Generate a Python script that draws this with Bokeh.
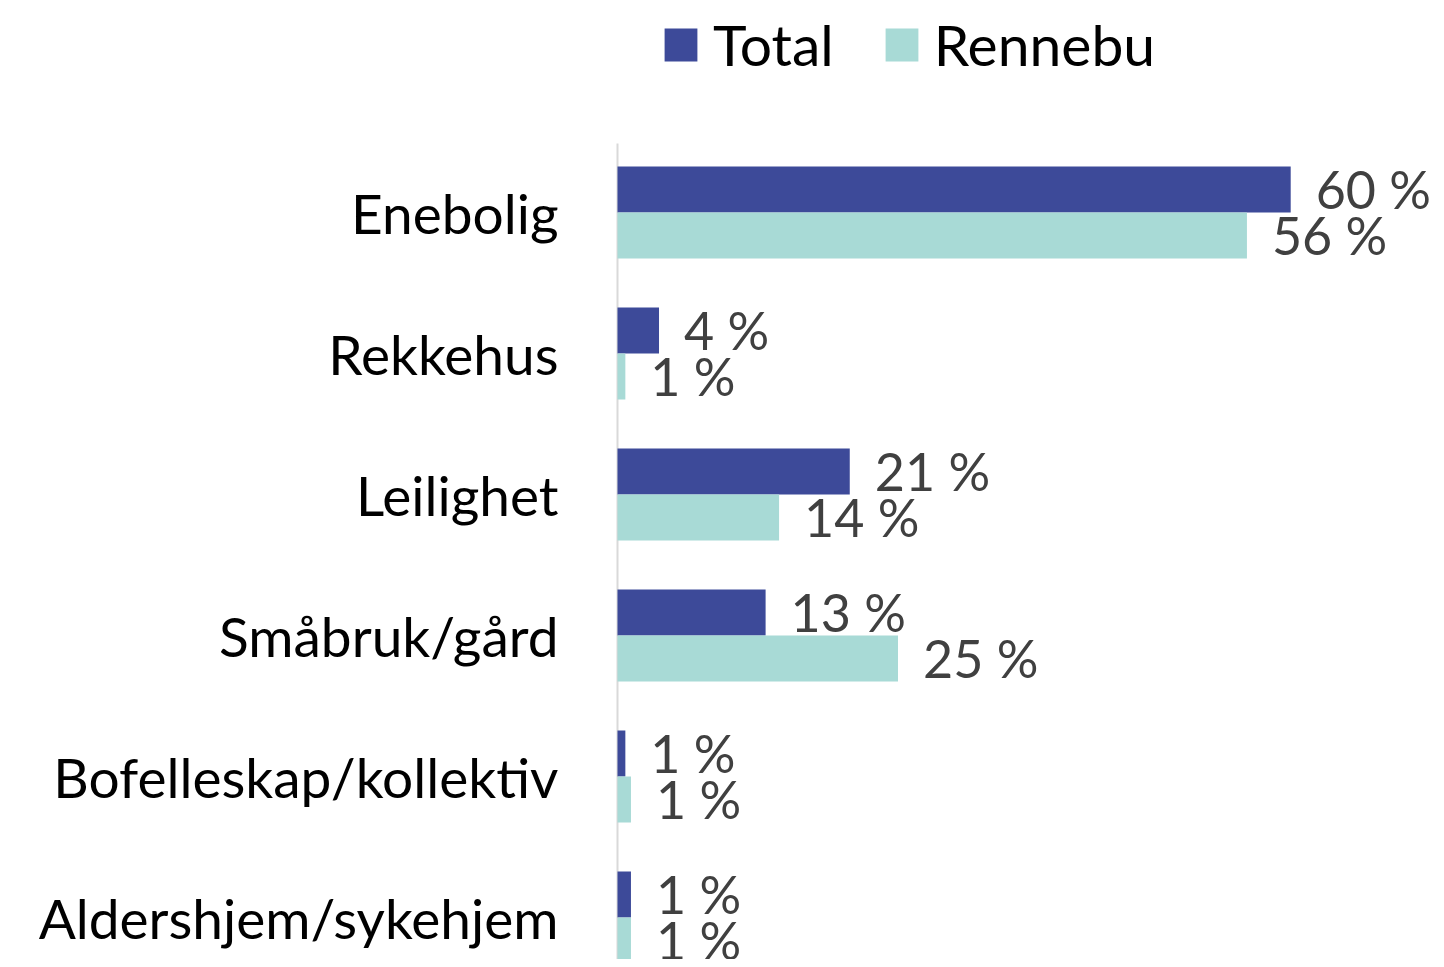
from bokeh.plotting import figure
from bokeh.models import Range1d, FixedTicker, Legend, LegendItem, ColumnDataSource
from bokeh.core.properties import value
from bokeh.embed import file_html
from bokeh.resources import INLINE

categories = ["Enebolig", "Rekkehus", "Leilighet", "Småbruk/gård", "Bofelleskap/kollektiv", "Aldershjem/sykehjem"]
total = [60.0, 3.7, 20.7, 13.2, 0.7, 1.2]
rennebu = [56.1, 0.7, 14.4, 25.0, 1.2, 1.2]
series_names = ["Total", "Rennebu"]
colors = ["#3D4A99", "#A8DAD6"]

FONT = "Lato"
W, H = 1436, 959
left_border = 613
px_per_unit = 11.22
zero_px = 617
cat_px = 141.0
first_center_px = 212.0
axis_top_px = 143.0

n = len(categories)
ypos = [n - 1 - i for i in range(n)]
bar_h = 46.0 / cat_px

x_start = -(zero_px - left_border) / px_per_unit
x_end = (W - zero_px) / px_per_unit
y_top = (n - 1) + first_center_px / cat_px
y_bot = (n - 1) - (H - first_center_px) / cat_px

p = figure(width=W, height=H, output_backend="svg", toolbar_location=None,
           x_range=Range1d(x_start, x_end), y_range=Range1d(y_bot, y_top),
           min_border_left=left_border, min_border_right=0, min_border_top=0, min_border_bottom=0)
p.outline_line_color = None
p.xaxis.visible = False
p.xgrid.visible = False
p.ygrid.visible = False
p.background_fill_color = None
p.border_fill_color = "white"

yax = p.yaxis[0]
yax.ticker = FixedTicker(ticks=ypos)
yax.major_label_overrides = {y: c for y, c in zip(ypos, categories)}
yax.axis_line_color = None
yax.major_tick_line_color = None
yax.minor_tick_line_color = None
yax.major_tick_out = 0
yax.major_tick_in = 0
yax.minor_tick_out = 0
yax.minor_tick_in = 0
yax.major_label_standoff = 55
yax.major_label_text_font = FONT
yax.major_label_text_font_size = "55px"
yax.major_label_text_color = "#000000"

# axis line
p.segment(x0=[0], y0=[y_bot], x1=[0], y1=[(n - 1) + (first_center_px - axis_top_px) / cat_px],
          line_color="#D9D9D9", line_width=2)

renderers = []
for k, (vals, col) in enumerate(zip([total, rennebu], colors)):
    off = bar_h / 2 if k == 0 else -bar_h / 2
    ys = [y + off for y in ypos]
    src = ColumnDataSource(dict(y=ys, v=vals, lab=[f"{round(v):d} %" for v in vals]))
    r = p.hbar(y="y", right="v", left=0, height=bar_h, source=src, fill_color=col, line_color=None)
    renderers.append(r)
    p.text(x="v", y="y", text="lab", source=src, x_offset=25, y_offset=-1, text_baseline="middle",
           text_align="left", text_font=value(FONT), text_font_size="52px", text_color="#404040")

legend = Legend(items=[LegendItem(label=nm, renderers=[r]) for nm, r in zip(series_names, renderers)],
                orientation="horizontal", location=(47, H - 78),
                glyph_width=41, glyph_height=41, label_standoff=12, spacing=47,
                padding=0, margin=0, border_line_color=None, background_fill_alpha=0,
                label_text_font=FONT, label_text_font_size="57px", label_text_color="#000000")
p.add_layout(legend, "center")

open("out.html", "w").write(file_html(p, INLINE))
